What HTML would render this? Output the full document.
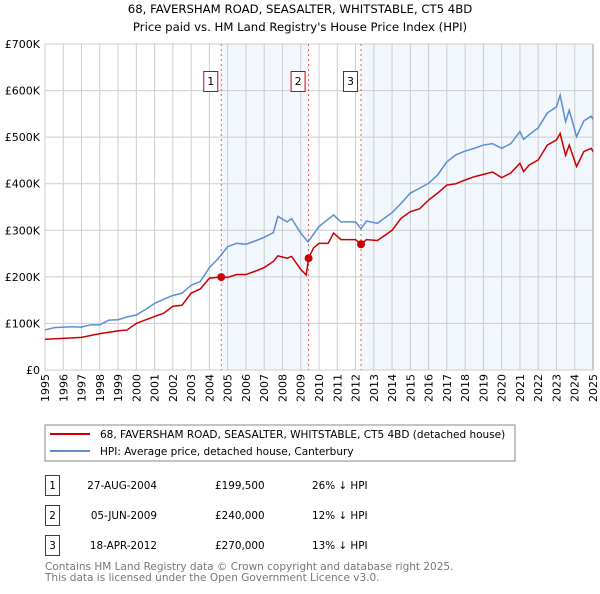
<!DOCTYPE html>
<html><head><meta charset="utf-8"><style>
body{margin:0;background:#fff;font-family:"DejaVu Sans","Liberation Sans",sans-serif;}
svg text{font-family:"DejaVu Sans","Liberation Sans",sans-serif;}
</style></head><body>
<svg id="chart" width="600" height="590" xmlns="http://www.w3.org/2000/svg">
<text x="300" y="13" text-anchor="middle" font-size="11.7">68, FAVERSHAM ROAD, SEASALTER, WHITSTABLE, CT5 4BD</text>
<text x="300" y="31" text-anchor="middle" font-size="11.7">Price paid vs. HM Land Registry's House Price Index (HPI)</text>
<g id="plot"></g>
<rect x="45" y="425" width="470" height="36" fill="#fff" stroke="#888"/>
<line x1="50" y1="434" x2="90" y2="434" stroke="#cc0000" stroke-width="2"/>
<text x="100" y="438" font-size="10.5">68, FAVERSHAM ROAD, SEASALTER, WHITSTABLE, CT5 4BD (detached house)</text>
<line x1="50" y1="451" x2="90" y2="451" stroke="#5b8fd1" stroke-width="2"/>
<text x="100" y="455" font-size="10.5">HPI: Average price, detached house, Canterbury</text>
<g font-size="10.4">
<rect x="45.5" y="475.5" width="14" height="20" fill="none" stroke="#cc0000"/><text x="52.5" y="489" text-anchor="middle">1</text>
<text x="157" y="489" text-anchor="end">27-AUG-2004</text><text x="215" y="489">£199,500</text><text x="312" y="489">26% ↓ HPI</text>
<rect x="45.5" y="505.5" width="14" height="20" fill="none" stroke="#cc0000"/><text x="52.5" y="519" text-anchor="middle">2</text>
<text x="157" y="519" text-anchor="end">05-JUN-2009</text><text x="215" y="519">£240,000</text><text x="312" y="519">12% ↓ HPI</text>
<rect x="45.5" y="535.5" width="14" height="20" fill="none" stroke="#cc0000"/><text x="52.5" y="549" text-anchor="middle">3</text>
<text x="157" y="549" text-anchor="end">18-APR-2012</text><text x="215" y="549">£270,000</text><text x="312" y="549">13% ↓ HPI</text>
</g>
<text x="45" y="570" font-size="10.5" fill="#777">Contains HM Land Registry data © Crown copyright and database right 2025.</text>
<text x="45" y="581" font-size="10.5" fill="#777">This data is licensed under the Open Government Licence v3.0.</text>
</svg>
<script>
const yTicks=[0,100,200,300,400,500,600,700];
const yTickLabels=["£0","£100K","£200K","£300K","£400K","£500K","£600K","£700K"];
const xYears=[1995,1996,1997,1998,1999,2000,2001,2002,2003,2004,2005,2006,2007,2008,2009,2010,2011,2012,2013,2014,2015,2016,2017,2018,2019,2020,2021,2022,2023,2024,2025];
const hpiT=[1995,1995.5,1996,1996.5,1997,1997.5,1998,1998.5,1999,1999.5,2000,2000.5,2001,2001.5,2002,2002.5,2003,2003.5,2004,2004.5,2005,2005.5,2006,2006.5,2007,2007.5,2007.75,2008.25,2008.5,2009,2009.4,2010,2010.8,2011.2,2012,2012.3,2012.6,2013.2,2014,2014.5,2015,2015.5,2016,2016.5,2017,2017.5,2018,2018.5,2019,2019.5,2020,2020.5,2021,2021.2,2021.5,2022,2022.5,2023,2023.2,2023.5,2023.7,2024.1,2024.5,2024.9,2025];
const hpiV=[86,91,92,93,92,97,97,107,108,114,118,130,143,152,160,165,182,190,220,240,265,272,270,277,285,295,330,318,325,294,275,308,333,318,318,303,320,315,338,358,380,390,401,419,447,462,470,476,483,486,476,486,512,495,505,520,552,565,590,533,558,501,535,545,538];
const redT=[1995,1996,1997,1998,1999,1999.5,2000,2001,2001.5,2002,2002.5,2003,2003.5,2004,2004.65,2005,2005.5,2006,2006.5,2007,2007.5,2007.75,2008.25,2008.5,2009,2009.3,2009.43,2009.7,2010,2010.5,2010.8,2011.2,2012,2012.3,2012.6,2013.2,2014,2014.5,2015,2015.5,2016,2016.5,2017,2017.5,2018,2018.5,2019,2019.5,2020,2020.5,2021,2021.2,2021.5,2022,2022.5,2023,2023.2,2023.5,2023.7,2024.1,2024.5,2024.9,2025];
const redV=[66,68,70,78,84,86,100,115,122,137,139,165,174,197,200,199,205,205,212,220,233,245,240,244,216,204,240,262,272,272,294,280,280,270,280,278,300,326,340,346,365,380,397,400,408,415,420,425,413,423,444,426,440,451,483,494,508,461,483,437,469,476,469];
const saleT=[2004.65,2009.43,2012.3];
const saleV=[199.5,240,270];
const saleLabels=["1","2","3"];
const X0=45,X1=593,Y0=370,Y1=44;
const xs=t=>X0+(t-1995)/30*(X1-X0);
const ys=v=>Y0-v/700*(Y0-Y1);
const NS="http://www.w3.org/2000/svg";
const g=document.getElementById('plot');
function mk(tag,attrs,parent){const e=document.createElementNS(NS,tag);for(const k in attrs)e.setAttribute(k,attrs[k]);(parent||g).appendChild(e);return e;}
let s1=mk('rect',{x:xs(saleT[0]),y:Y1,width:xs(saleT[1])-xs(saleT[0]),height:Y0-Y1,fill:'#f2f6fd'});


let s2=mk('rect',{x:xs(saleT[2]),y:Y1,width:X1-xs(saleT[2]),height:Y0-Y1,fill:'#f2f6fd'});


yTicks.forEach((v,i)=>{
  let l=mk('line',{x1:X0,x2:X1,y1:ys(v),y2:ys(v),stroke:'#ccc'});
  
  
  let t=mk('text',{x:40,y:ys(v)+4,'text-anchor':'end','font-size':11});
  t.textContent=yTickLabels[i];
  
  
});
xYears.forEach(yr=>{
  let l=mk('line',{x1:xs(yr),x2:xs(yr),y1:Y1,y2:Y0,stroke:'#ccc'});
  
  
  let t=mk('text',{x:0,y:0,'text-anchor':'end','font-size':11,transform:`translate(${xs(yr)+4},374) rotate(-90)`});
  t.textContent=yr;
  
  
});
let ax=mk('line',{x1:X1,x2:X1,y1:Y1,y2:Y0,stroke:'#999'});


saleT.forEach((t,i)=>{
  let l=mk('line',{x1:xs(t),x2:xs(t),y1:Y1,y2:Y0,stroke:'#e55','stroke-dasharray':'2,3'});
  
  
  let r=mk('rect',{x:xs(t)-17.5,y:71.5,width:14,height:20,fill:'#fff',stroke:'#cc0000'});
  
  
  let tx=mk('text',{x:xs(t)-10.5,y:85,'text-anchor':'middle','font-size':11});
  tx.textContent=saleLabels[i];
  
  
});
let hp=mk('polyline',{points:hpiT.map((t,i)=>xs(t)+','+ys(hpiV[i])).join(' '),fill:'none',stroke:'#5b8fd1','stroke-width':1.5});


let rp=mk('polyline',{points:redT.map((t,i)=>xs(t)+','+ys(redV[i])).join(' '),fill:'none',stroke:'#cc0000','stroke-width':1.5});


saleT.forEach((t,i)=>{
  let c=mk('circle',{cx:xs(t),cy:ys(saleV[i]),r:4,fill:'#cc0000'});
  
  
});
</script>
</body></html>
